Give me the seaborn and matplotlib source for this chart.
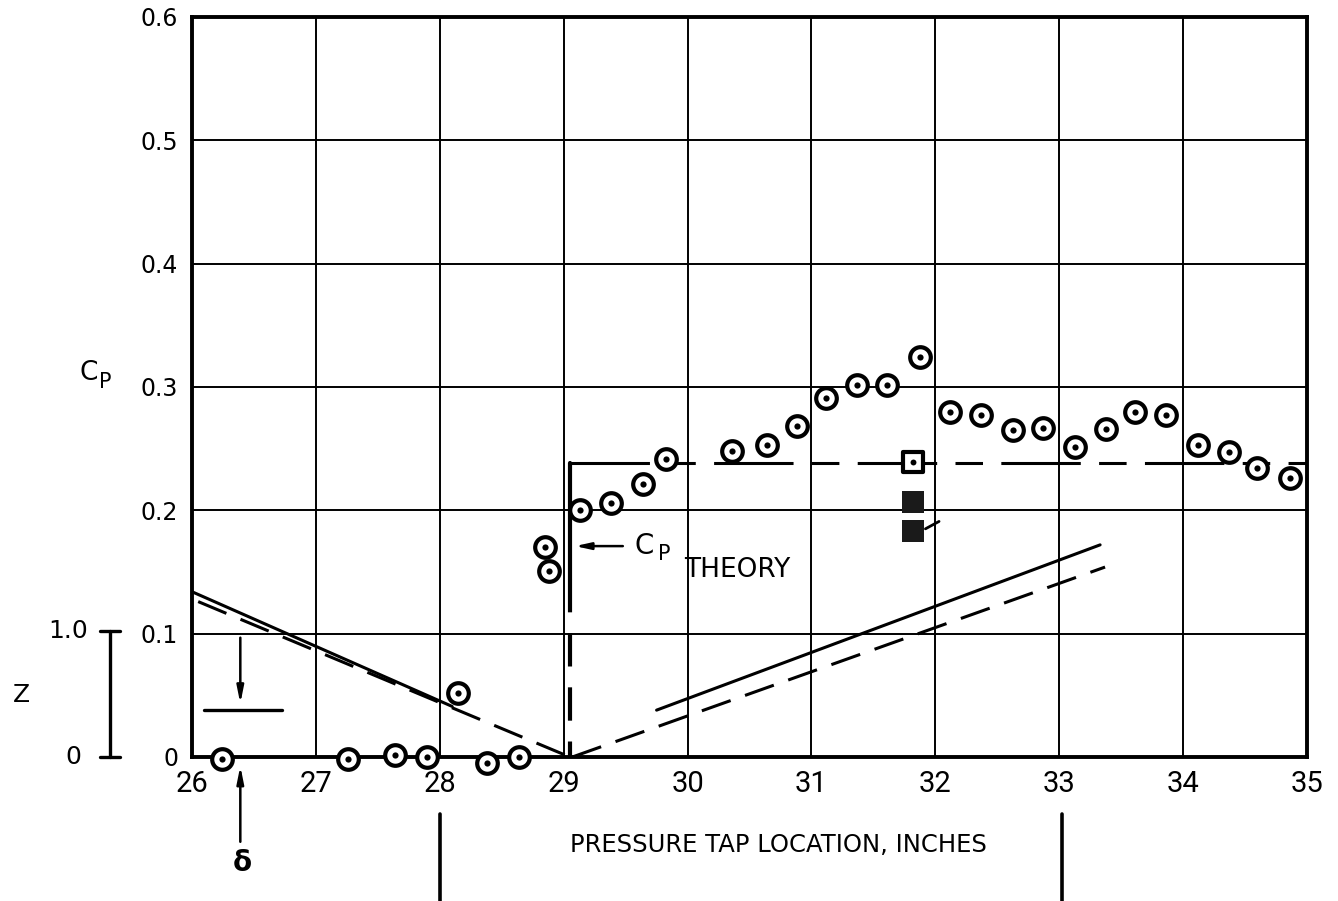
import matplotlib
matplotlib.use("Agg")
import matplotlib.pyplot as plt
from matplotlib import font_manager
import seaborn as sns

# measured Cp at each pressure tap (inches)
tap_x = [26.24, 27.26, 27.64, 27.90, 28.15, 28.38, 28.64, 28.85, 28.88, 29.13, 29.38, 29.64, 29.83,
         30.36, 30.64, 30.88, 31.12, 31.37, 31.61, 31.88, 32.12, 32.37, 32.63, 32.87,
         33.13, 33.38, 33.61, 33.86, 34.12, 34.37, 34.60, 34.86]
tap_cp = [-0.002, -0.002, 0.002, 0.0, 0.052, -0.005, 0.0, 0.170, 0.151, 0.200, 0.206, 0.221, 0.242,
          0.248, 0.253, 0.268, 0.291, 0.302, 0.302, 0.324, 0.280, 0.277, 0.265, 0.267,
          0.251, 0.266, 0.280, 0.277, 0.253, 0.247, 0.234, 0.226]

# square symbols near x = 31.8
open_sq_x, open_sq_cp = [31.82], [0.239]
fill_sq_x, fill_sq_cp = [31.82, 31.82], [0.207, 0.183]

# theoretical Cp
theory_x = [29.05, 35.0]
theory_cp = [0.238, 0.238]
theory_jump_x = 29.05

# body contour (Z scale shares the 0..0.1 band)
front_solid_x, front_solid_z = [26.0, 28.1], [0.134, 0.041]
front_dash_x, front_dash_z = [26.05, 29.05], [0.126, 0.0]
rear_solid_x, rear_solid_z = [29.75, 33.33], [0.038, 0.172]
rear_dash_x, rear_dash_z = [29.07, 33.37], [0.0, 0.154]

x_ticks = list(range(26, 36))
y_ticks = [0, 0.1, 0.2, 0.3, 0.4, 0.5, 0.6]
y_labels = ["0", "0.1", "0.2", "0.3", "0.4", "0.5", "0.6"]

sns.set_style("white")
plt.rcParams["font.family"] = ["DejaVu Sans"]
plt.rcParams["text.color"] = "black"
plt.rcParams["xtick.color"] = "black"
plt.rcParams["ytick.color"] = "black"
avail = {f.name for f in font_manager.fontManager.ttflist}
tick_font = "Roboto" if "Roboto" in avail else "DejaVu Sans"

fig = plt.figure(figsize=(13.38, 9.01), dpi=100)
ax = fig.add_axes([192 / 1338, 144 / 901, 1115 / 1338, 740 / 901])

lw = 2.2
dash = (0, (10, 5))
# body contour lines
sns.lineplot(x=front_solid_x, y=front_solid_z, color="black", lw=lw, ax=ax)
sns.lineplot(x=front_dash_x, y=front_dash_z, color="black", lw=lw, linestyle=dash, ax=ax)
sns.lineplot(x=rear_solid_x, y=rear_solid_z, color="black", lw=lw, ax=ax)
sns.lineplot(x=rear_dash_x, y=rear_dash_z, color="black", lw=lw, linestyle=dash, ax=ax)

# theory
sns.lineplot(x=theory_x, y=theory_cp, color="black", lw=lw, linestyle=(0, (26, 6, 9, 6)), ax=ax)
ax.plot([theory_jump_x, theory_jump_x], [theory_cp[0], 0.144], color="black", lw=3)
ax.plot([theory_jump_x, theory_jump_x], [0.144, 0.0], color="black", lw=3, linestyle=(0, (8, 5)))

# data symbols
sns.scatterplot(x=tap_x, y=tap_cp, marker="o", s=220, color="white", edgecolor="black",
                linewidth=3.0, ax=ax, zorder=5, clip_on=False)
sns.scatterplot(x=tap_x, y=tap_cp, marker="o", s=20, color="black", linewidth=0, ax=ax, zorder=6,
                clip_on=False)
sns.scatterplot(x=open_sq_x, y=open_sq_cp, marker="s", s=190, color="white", edgecolor="black",
                linewidth=3.0, ax=ax, zorder=5)
sns.scatterplot(x=open_sq_x, y=open_sq_cp, marker="o", s=18, color="black", linewidth=0, ax=ax, zorder=6)
sns.scatterplot(x=fill_sq_x, y=fill_sq_cp, marker="s", s=270, color="#1a1a1a", linewidth=0, ax=ax, zorder=5)
ax.plot([31.92, 32.03], [0.185, 0.191], color="black", lw=2)

ax.set_xlim(26, 35)
ax.set_ylim(0, 0.6)
ax.set_xticks(x_ticks)
ax.set_yticks(y_ticks)
ax.set_yticklabels(y_labels)
ax.grid(True, color="black", lw=1.4)
ax.set_axisbelow(True)
ax.tick_params(axis="x", length=0, pad=9, labelsize=21, labelcolor="black")
ax.tick_params(axis="y", length=4, width=1.5, pad=6, labelsize=17, labelcolor="black")
for lab in ax.get_xticklabels():
    lab.set_fontfamily(tick_font)
for side in ax.spines:
    ax.spines[side].set_color("black")
    ax.spines[side].set_linewidth(2.8)
ax.set_xlabel("")
ax.set_ylabel("")

# Cp axis label
ax.text(25.09, 0.311, "C", fontsize=19, ha="left", va="center", clip_on=False)
ax.text(25.25, 0.304, "P", fontsize=15, ha="left", va="center", clip_on=False)

# theory annotation
ax.annotate("", xy=(29.07, 0.171), xytext=(29.50, 0.171),
            arrowprops=dict(arrowstyle="-|>,head_length=0.9,head_width=0.2", color="black", lw=1.8))
ax.text(29.57, 0.171, "C", fontsize=20, ha="left", va="center")
ax.text(29.76, 0.165, "P", fontsize=15, ha="left", va="center")
ax.text(29.97, 0.152, "THEORY", fontsize=19, ha="left", va="center")

# Z scale
zx = 25.34
ax.plot([zx, zx], [0, 0.102], color="black", lw=2.4, clip_on=False)
ax.plot([zx - 0.08, zx + 0.08], [0, 0], color="black", lw=2.4, clip_on=False)
ax.plot([zx - 0.08, zx + 0.08], [0.102, 0.102], color="black", lw=2.4, clip_on=False)
ax.text(25.16, 0.102, "1.0", fontsize=18, ha="right", va="center", clip_on=False)
ax.text(25.11, 0.0, "0", fontsize=18, ha="right", va="center", clip_on=False)
ax.text(24.62, 0.050, "Z", fontsize=18, ha="center", va="center", clip_on=False)

# delta marker
ax.plot([26.10, 26.73], [0.038, 0.038], color="black", lw=2.4)
ax.annotate("", xy=(26.39, 0.041), xytext=(26.39, 0.099),
            arrowprops=dict(arrowstyle="-|>,head_length=1.0,head_width=0.2", color="black", lw=1.8))
ax.annotate("", xy=(26.39, -0.005), xytext=(26.39, -0.071), annotation_clip=False,
            arrowprops=dict(arrowstyle="-|>,head_length=1.0,head_width=0.2", color="black", lw=1.8))
ax.text(26.41, -0.086, "δ", fontsize=20, fontweight="bold", ha="center", va="center", clip_on=False)

# x axis title with bracket bars
ax.text(30.73, -0.0715, "PRESSURE TAP LOCATION, INCHES", fontsize=17.5, ha="center", va="center",
        clip_on=False)
for bx in [28.0, 33.02]:
    ax.plot([bx, bx], [-0.046, -0.125], color="black", lw=2.6, clip_on=False)

fig.savefig("out.png", dpi=100)
